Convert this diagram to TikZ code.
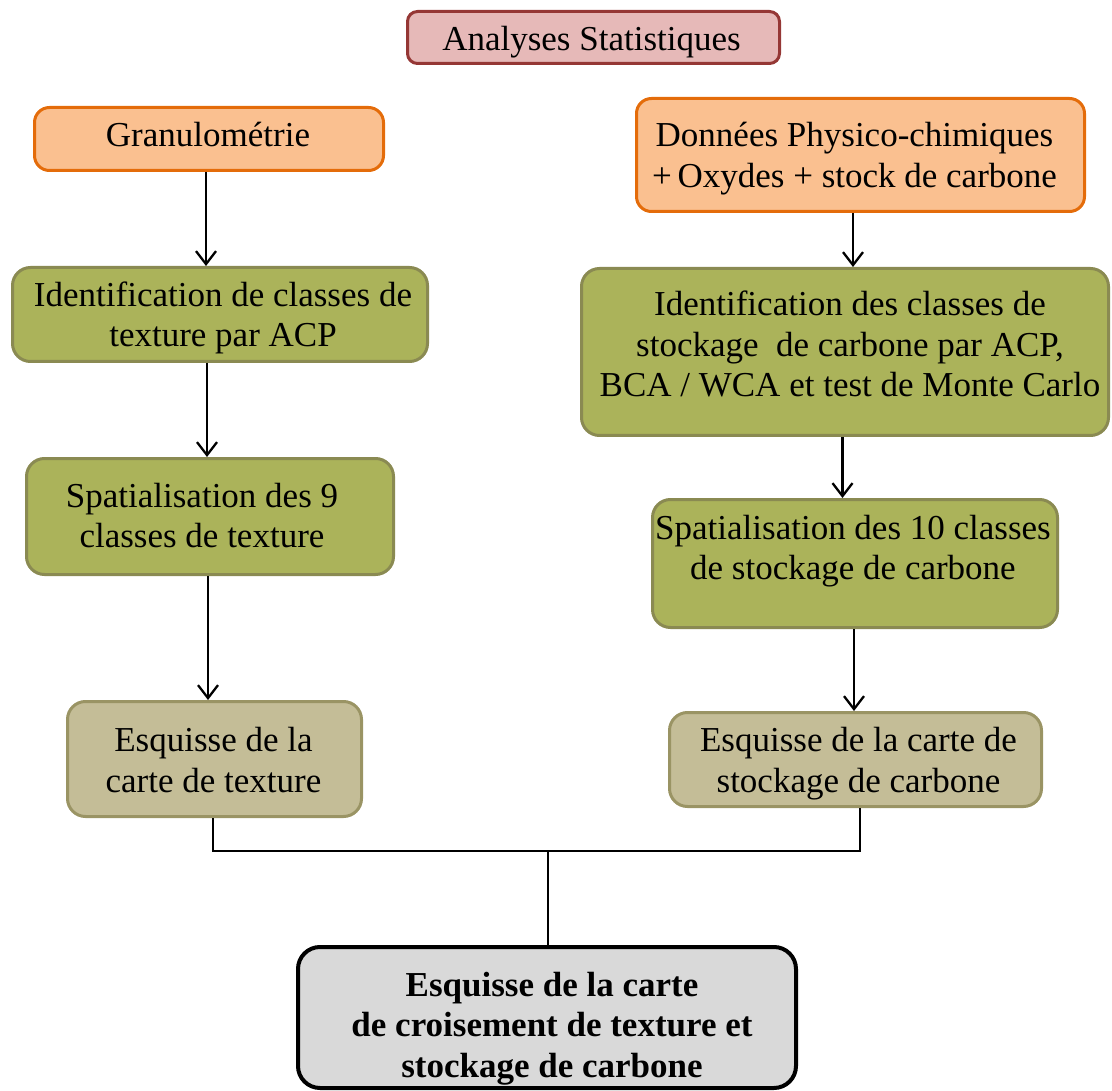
\documentclass[tikz,border=0pt]{standalone}
\usepackage{fontspec}
\setmainfont{Liberation Serif}
\usetikzlibrary{arrows.meta}
\definecolor{pinkfill}{HTML}{E6B9B8}
\definecolor{pinkdraw}{HTML}{953735}
\definecolor{orfill}{HTML}{FAC090}
\definecolor{ordraw}{HTML}{E46C0A}
\definecolor{grfill}{HTML}{ABB35A}
\definecolor{grdraw}{HTML}{8A8A52}
\definecolor{tanfill}{HTML}{C4BD97}
\definecolor{tandraw}{HTML}{9A9464}
\definecolor{gyfill}{HTML}{D9D9D9}
% text block: #1 horizontal offset, #2 vertical raise, #3 lines
\newcommand\boxtext[3]{\raisebox{\dimexpr#2+2pt\relax}[0pt][0pt]{\makebox[0pt]{\hspace*{#1}\hspace*{#1}\begin{tabular}{@{}c@{}}#3\end{tabular}}}}
\begin{document}
\begin{tikzpicture}[x=1pt,y=-1pt,
  box/.style={rectangle,line width=3pt,inner sep=0pt,
    font=\fontsize{35}{40.5}\selectfont},
  statbox/.style={box,fill=pinkfill,draw=pinkdraw,rounded corners=10pt},
  orbox/.style={box,fill=orfill,draw=ordraw,rounded corners=15pt},
  grbox/.style={box,fill=grfill,draw=grdraw,rounded corners=18pt},
  tanbox/.style={box,fill=tanfill,draw=tandraw,rounded corners=18pt},
  finbox/.style={box,fill=gyfill,draw=black,line width=4pt,rounded corners=22pt,font=\fontsize{35}{40.5}\selectfont\bfseries},
  arr/.style={line width=2.3pt,-{Straight Barb[length=13pt,width=20pt,line width=2.3pt]}},
  link/.style={line width=2pt}]
\useasboundingbox (0,0) rectangle (1112,1091);
\node[statbox,minimum width=372pt,minimum height=52pt] (stat) at (593.5,37.5)
  {\boxtext{-2pt}{-13pt}{Analyses Statistiques}};
\node[orbox,minimum width=349pt,minimum height=63pt] (gran) at (209,139)
  {\boxtext{-1pt}{-7.5pt}{Granulométrie}};
\node[orbox,minimum width=448pt,minimum height=113pt] (phys) at (860.5,155)
  {\boxtext{-6pt}{-12pt}{Données Physico-chimiques\\+\,Oxydes + stock de carbone}};
\node[grbox,minimum width=415pt,minimum height=94pt] (idt) at (220,314.5)
  {\boxtext{3pt}{-12pt}{Identification de classes de\\texture par ACP}};
\node[grbox,minimum width=527pt,minimum height=167pt] (idc) at (845,352)
  {\boxtext{5pt}{-4.5pt}{Identification des classes de\\stockage\ \ de carbone par ACP,\\BCA / WCA et test de Monte Carlo}};
\node[grbox,minimum width=367pt,minimum height=116pt] (spt) at (210,516.5)
  {\boxtext{-8pt}{-11pt}{Spatialisation des 9\\classes de texture}};
\node[grbox,minimum width=405pt,minimum height=128pt] (spc) at (855,563.5)
  {\boxtext{-2pt}{4pt}{Spatialisation des 10 classes\\de stockage de carbone}};
\node[tanbox,minimum width=294pt,minimum height=115pt] (est) at (214.5,759)
  {\boxtext{-1pt}{-13pt}{Esquisse de la\\carte de texture}};
\node[tanbox,minimum width=372pt,minimum height=94pt] (esc) at (855.5,759.5)
  {\boxtext{3pt}{-12.5pt}{Esquisse de la carte de\\stockage de carbone}};
\node[finbox,minimum width=498pt,minimum height=141pt] (fin) at (547,1017.5)
  {\boxtext{5pt}{-19.5pt}{Esquisse de la carte\\de croisement de texture et\\stockage de carbone}};
% arrows
\draw[arr] ([xshift=-3pt]gran.south) -- ([xshift=-3pt]gran.south |- idt.north);
\draw[arr] ([xshift=-13pt]idt.south) -- ([xshift=-13pt]idt.south |- spt.north);
\draw[arr] ([xshift=-2pt]spt.south) -- ([xshift=-2pt]spt.south |- est.north);
\draw[arr] ([xshift=-7.5pt]phys.south) -- ([xshift=-7.5pt]phys.south |- idc.north);
\draw[arr] ([xshift=-2.5pt]idc.south) -- ([xshift=-2.5pt]idc.south |- spc.north);
\draw[arr] ([xshift=-1pt]spc.south) -- ([xshift=-1pt]spc.south |- esc.north);
% joining connector
\coordinate (jl) at (213,851);
\coordinate (jr) at (860,851);
\coordinate (jm) at (548,851);
\draw[link] ([xshift=-1.5pt]est.south) -- (jl) -- (jr) -- ([xshift=4.5pt]esc.south);
\draw[link] (jm) -- (jm |- fin.north);
\end{tikzpicture}
\end{document}
